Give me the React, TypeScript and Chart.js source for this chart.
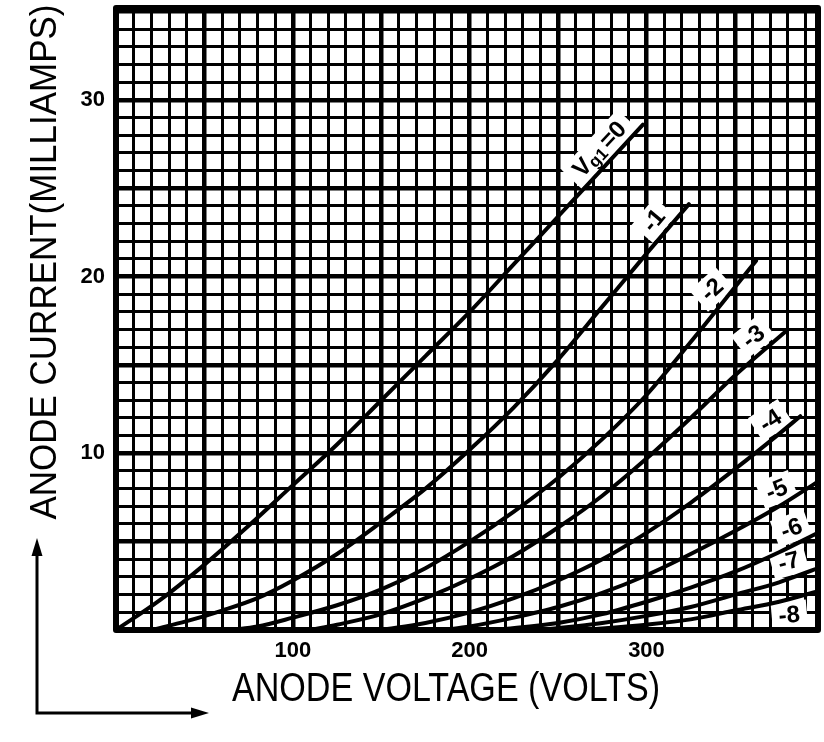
import React, { useEffect, useRef } from "react";
import { Chart, registerables } from "chart.js";

Chart.register(...registerables);

// Axis ranges and tick labels
const X_MAX = 397;
const Y_MAX = 35.2;
const xTickLabels = [100, 200, 300];
const yTickLabels = [10, 20, 30];

// Grid-voltage curves (anode volts vs anode milliamps)
const curveNames = ["Vg1=0", "-1", "-2", "-3", "-4", "-5", "-6", "-7", "-8"];

const voltsG0 = [0, 25, 50, 75, 100, 125, 150, 175, 200, 225, 250, 275, 298];
const ampsG0 = [0, 1.7, 3.7, 5.9, 8.2, 10.5, 13.0, 15.5, 18.0, 20.7, 23.4, 26.1, 28.6];

const voltsG1 = [20, 40, 60, 80, 100, 125, 150, 175, 200, 225, 250, 275, 300, 324];
const ampsG1 = [0, 0.5, 1.1, 1.8, 2.8, 4.3, 6.1, 8.0, 10.2, 12.6, 15.3, 18.3, 21.3, 24.1];

const voltsG2 = [65, 80, 100, 125, 150, 175, 200, 225, 250, 275, 300, 325, 350, 362];
const ampsG2 = [0, 0.2, 0.7, 1.4, 2.3, 3.5, 5.0, 6.7, 8.6, 10.8, 13.3, 16.3, 19.4, 20.9];

const voltsG3 = [110, 125, 150, 175, 200, 225, 250, 275, 300, 325, 350, 380];
const ampsG3 = [0, 0.3, 0.9, 1.8, 2.9, 4.2, 5.8, 7.6, 9.7, 12.0, 14.4, 17.0];

const voltsG4 = [150, 175, 200, 225, 250, 275, 300, 325, 350, 375, 387];
const ampsG4 = [0, 0.4, 1.0, 1.8, 2.8, 4.0, 5.5, 7.2, 9.1, 11.1, 12.1];

const voltsG5 = [185, 200, 225, 250, 275, 300, 325, 350, 375, 397];
const ampsG5 = [0, 0.2, 0.7, 1.3, 2.1, 3.1, 4.3, 5.6, 7.0, 8.4];

const voltsG6 = [215, 250, 275, 300, 325, 350, 375, 397];
const ampsG6 = [0, 0.4, 0.9, 1.6, 2.4, 3.3, 4.4, 5.5];

const voltsG7 = [240, 275, 300, 325, 350, 375, 397];
const ampsG7 = [0, 0.4, 0.8, 1.3, 2.0, 2.7, 3.5];

const voltsG8 = [265, 300, 325, 350, 375, 397];
const ampsG8 = [0, 0.3, 0.6, 1.1, 1.6, 2.2];

const seriesVolts = [voltsG0, voltsG1, voltsG2, voltsG3, voltsG4, voltsG5, voltsG6, voltsG7, voltsG8];
const seriesAmps = [ampsG0, ampsG1, ampsG2, ampsG3, ampsG4, ampsG5, ampsG6, ampsG7, ampsG8];

// Curve label anchors: a point on each curve (data units)
const labelVolts = [280, 311, 343, 366, 375, 377, 385, 382.8, 380];
const labelAmps = [26.6, 22.6, 18.6, 15.9, 11.1, 7.1, 4.9, 3.0, 1.75];
const labelAngles = [-47, -50, -42, -38, -33, -22, -20, -15, -5];
const labelSide = [1, 1, 1, 1, 1, 1, 1, 1, -1];

const yTitle = "ANODE CURRENT(MILLIAMPS)";
const xTitle = "ANODE VOLTAGE (VOLTS)";

function drawStretched(
  ctx: CanvasRenderingContext2D,
  text: string,
  cx: number,
  cy: number,
  width: number,
  font: string,
  rot: number
) {
  ctx.save();
  ctx.font = font;
  const w = ctx.measureText(text).width;
  ctx.translate(cx, cy);
  ctx.rotate(rot);
  ctx.scale(width / w, 1);
  ctx.textAlign = "center";
  ctx.textBaseline = "middle";
  ctx.fillStyle = "#000";
  ctx.fillText(text, 0, 0);
  ctx.restore();
}

export default function App() {
  const ref = useRef<HTMLCanvasElement>(null);

  useEffect(() => {
    document.body.style.margin = "0";
    const canvas = ref.current!;

    const datasets = seriesVolts.map((vs, i) => ({
      label: curveNames[i],
      data: vs.map((v, j) => ({ x: v, y: seriesAmps[i][j] })),
      borderColor: "#000",
      backgroundColor: "#000",
      borderWidth: 4,
      pointRadius: 0,
      fill: false,
      cubicInterpolationMode: "monotone" as const,
      borderCapStyle: "round" as const,
    }));

    const overlay = {
      id: "overlay",
      beforeDatasetsDraw(chart: any) {
        const ctx: CanvasRenderingContext2D = chart.ctx;
        const xs = chart.scales.x;
        const ys = chart.scales.y;
        const a = chart.chartArea;
        ctx.save();
        ctx.beginPath();
        ctx.rect(a.left, a.top, a.right - a.left, a.bottom - a.top);
        ctx.clip();
        curveNames.forEach((name, i) => {
          const px = xs.getPixelForValue(labelVolts[i]);
          const py = ys.getPixelForValue(labelAmps[i]);
          ctx.save();
          ctx.translate(px, py);
          ctx.rotate((labelAngles[i] * Math.PI) / 180);
          const off = -16 * labelSide[i];
          const big = "bold 24px 'Liberation Sans'";
          const small = "bold 17px 'Liberation Sans'";
          ctx.textBaseline = "middle";
          if (i === 0) {
            ctx.font = big;
            const wV = ctx.measureText("V").width;
            const wEq = ctx.measureText("=0").width;
            ctx.font = small;
            const wG = ctx.measureText("g1").width;
            const total = wV + wG + wEq + 3;
            ctx.fillStyle = "#fff";
            ctx.fillRect(-total / 2 - 8, off - 14, total + 16, 28);
            ctx.fillStyle = "#000";
            let x0 = -total / 2;
            ctx.font = big;
            ctx.textAlign = "left";
            ctx.fillText("V", x0, off + 1);
            x0 += wV;
            ctx.font = small;
            ctx.fillText("g1", x0, off + 6);
            x0 += wG + 3;
            ctx.font = big;
            ctx.fillText("=0", x0, off + 1);
          } else {
            ctx.font = big;
            const w = ctx.measureText(name).width;
            ctx.fillStyle = "#fff";
            ctx.fillRect(-w / 2 - 7, off - 14, w + 14, 28);
            ctx.fillStyle = "#000";
            ctx.textAlign = "center";
            ctx.fillText(name, 0, off + 1);
          }
          ctx.restore();
        });
        ctx.restore();
      },
      afterDraw(chart: any) {
        const ctx: CanvasRenderingContext2D = chart.ctx;
        const a = chart.chartArea;
        ctx.save();
        ctx.strokeStyle = "#000";
        ctx.lineWidth = 6;
        ctx.lineJoin = "round";
        ctx.strokeRect(a.left, a.top, a.right - a.left, a.bottom - a.top);

        // axis titles
        drawStretched(ctx, yTitle, 46, 262, 515, "37px 'Liberation Sans'", -Math.PI / 2);
        drawStretched(ctx, xTitle, 446, 690, 428, "40px 'Liberation Sans'", 0);

        // arrows
        ctx.lineWidth = 3;
        ctx.lineCap = "butt";
        ctx.beginPath();
        ctx.moveTo(37, 713);
        ctx.lineTo(37, 552);
        ctx.moveTo(35.5, 713);
        ctx.lineTo(196, 713);
        ctx.stroke();
        ctx.fillStyle = "#000";
        ctx.beginPath();
        ctx.moveTo(37, 538);
        ctx.lineTo(31.5, 556);
        ctx.lineTo(42.5, 556);
        ctx.closePath();
        ctx.fill();
        ctx.beginPath();
        ctx.moveTo(209, 713);
        ctx.lineTo(191, 707.5);
        ctx.lineTo(191, 718.5);
        ctx.closePath();
        ctx.fill();
        ctx.restore();
      },
    };

    const tickFont = { family: "'Liberation Sans'", size: 22, weight: "bold" as const };

    const chart = new Chart(canvas, {
      type: "line",
      data: { datasets: datasets as any },
      options: {
        responsive: false,
        animation: false,
        devicePixelRatio: 1,
        layout: { padding: { top: 8, right: 6, left: 0, bottom: 0 } },
        plugins: { legend: { display: false }, tooltip: { enabled: false } },
        scales: {
          x: {
            type: "linear",
            min: 0,
            max: X_MAX,
            afterFit: (s: any) => {
              s.height = 112;
              s.paddingLeft = 0;
              s.paddingRight = 0;
            },
            ticks: {
              stepSize: 10,
              autoSkip: false,
              includeBounds: false,
              maxRotation: 0,
              minRotation: 0,
              padding: 8,
              color: "#000",
              font: tickFont,
              callback: (v: any) => (xTickLabels.includes(Number(v)) ? String(v) : ""),
            },
            grid: {
              color: "#000",
              drawTicks: false,
              lineWidth: (c: any) => (c.tick && Math.round(c.tick.value) % 50 === 0 ? 4.5 : 3),
            },
            border: { display: false },
          },
          y: {
            type: "linear",
            min: 0,
            max: Y_MAX,
            afterFit: (s: any) => {
              s.width = 116;
              s.paddingTop = 0;
              s.paddingBottom = 0;
            },
            ticks: {
              stepSize: 1,
              autoSkip: false,
              includeBounds: false,
              padding: 11,
              color: "#000",
              font: tickFont,
              callback: (v: any) => (yTickLabels.includes(Number(v)) ? String(v) : ""),
            },
            grid: {
              color: "#000",
              drawTicks: false,
              lineWidth: (c: any) => (c.tick && Math.round(c.tick.value) % 5 === 0 ? 4.5 : 3),
            },
            border: { display: false },
          },
        },
      },
      plugins: [overlay],
    });

    return () => chart.destroy();
  }, []);

  return <canvas ref={ref} width={824} height={742} style={{ display: "block" }} />;
}
